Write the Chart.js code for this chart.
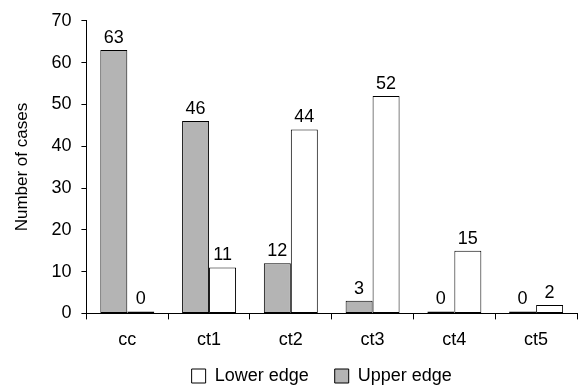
<!DOCTYPE html>
<html><head><meta charset="utf-8">
<script src="https://cdn.jsdelivr.net/npm/chart.js@4/dist/chart.umd.min.js"></script>
<style>html,body{margin:0;padding:0;background:#fff}#wrap{width:578px;height:389px}</style>
</head><body><div id="wrap"><canvas id="c" width="578" height="389"></canvas></div>
<script>
const categories = ['cc','ct1','ct2','ct3','ct4','ct5'];
const upperEdge = [63, 46, 12, 3, 0, 0];
const lowerEdge = [0, 11, 44, 52, 15, 2];
const yTicks = [0,10,20,30,40,50,60,70];
const FONT = "'Liberation Sans Narrow', 'Arial Narrow', 'Liberation Sans', sans-serif";
const GAP = '\u00a0\u00a0\u00a0\u00a0';

const valueLabels = {
  id: 'valueLabels',
  afterDatasetsDraw(chart) {
    const ctx = chart.ctx;
    ctx.save();
    ctx.font = '18px ' + FONT;
    ctx.fillStyle = '#000';
    ctx.textAlign = 'center';
    ctx.textBaseline = 'bottom';
    chart.data.datasets.forEach((ds, i) => {
      chart.getDatasetMeta(i).data.forEach((bar, j) => {
        ctx.fillText(String(ds.data[j]), bar.x, bar.y - 3);
      });
    });
    ctx.restore();
  }
};

new Chart(document.getElementById('c'), {
  type: 'bar',
  data: {
    labels: categories,
    datasets: [
      { label: 'Upper edge', data: upperEdge, backgroundColor: '#b4b4b4', borderColor: '#000', borderWidth: 1, minBarLength: 2, borderSkipped: false },
      { label: 'Lower edge', data: lowerEdge, backgroundColor: '#ffffff', borderColor: '#000', borderWidth: 1, minBarLength: 2, borderSkipped: false }
    ]
  },
  options: {
    responsive: false,
    animation: false,
    devicePixelRatio: 1,
    layout: { padding: { top: 9, right: 1, left: 12, bottom: -6 } },
    datasets: { bar: { categoryPercentage: 0.66, barPercentage: 1.0 } },
    plugins: {
      legend: {
        position: 'bottom',
        reverse: true,
        fullSize: false,
        labels: {
          font: { family: FONT, size: 18 }, color: '#000', boxWidth: 14, boxHeight: 14, padding: 6,
          generateLabels: (chart) => {
            const items = Chart.defaults.plugins.legend.labels.generateLabels(chart);
            items.forEach(it => { it.text = it.text + GAP; });
            return items;
          }
        }
      },
      tooltip: { enabled: false }
    },
    scales: {
      x: {
        offset: true,
        grid: { display: true, drawOnChartArea: false, offset: true, tickLength: 6, color: '#000' },
        border: { color: '#000', width: 1 },
        ticks: { font: { family: FONT, size: 18 }, color: '#000', padding: 10 }
      },
      y: {
        min: 0, max: 70,
        afterBuildTicks: (axis) => { axis.ticks = yTicks.map(v => ({ value: v })); },
        grid: { display: true, drawOnChartArea: false, tickLength: 5, color: '#000' },
        border: { color: '#000', width: 1 },
        ticks: { font: { family: FONT, size: 18 }, color: '#000', padding: 10 },
        title: { display: true, text: 'Number of cases', font: { family: FONT, size: 17 }, color: '#000', padding: { top: 0, bottom: 9 } }
      }
    }
  },
  plugins: [valueLabels]
});
</script></body></html>
